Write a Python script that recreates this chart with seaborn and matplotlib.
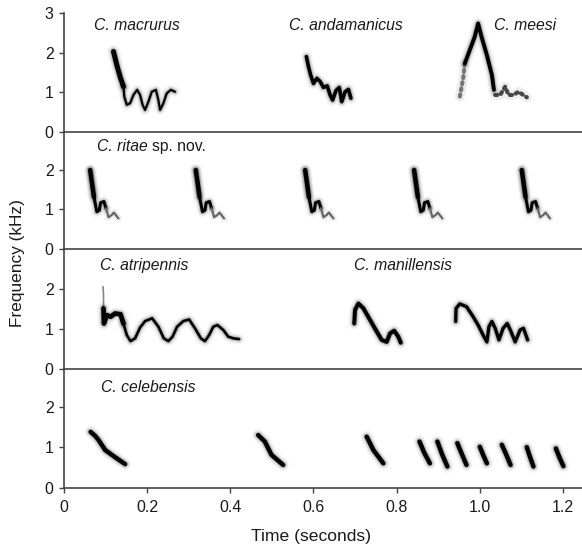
import matplotlib
matplotlib.use("Agg")
import matplotlib.pyplot as plt
import seaborn as sns

# syllable traces: time (s), frequency (kHz)
macrurus_head_t = [0.119, 0.127, 0.135, 0.143]
macrurus_head_f = [2.03, 1.69, 1.39, 1.14]
macrurus_tail_t = [0.143, 0.145, 0.151, 0.159, 0.167, 0.176, 0.183, 0.189, 0.195, 0.203, 0.211,
                   0.221, 0.227, 0.231, 0.239, 0.247, 0.257, 0.267]
macrurus_tail_f = [1.14, 0.89, 0.68, 0.72, 0.93, 1.06, 0.93, 0.68, 0.55, 0.76, 1.01,
                   1.06, 0.80, 0.55, 0.72, 0.97, 1.06, 1.01]

andamanicus_t = [0.583, 0.588, 0.593, 0.600, 0.608, 0.616, 0.624, 0.633, 0.640, 0.646, 0.654,
                 0.662, 0.668, 0.676, 0.684, 0.690]
andamanicus_f = [1.90, 1.65, 1.44, 1.22, 1.35, 1.27, 1.12, 1.16, 0.93, 0.80, 1.04,
                 1.12, 0.76, 1.01, 1.07, 0.85]

meesi_low_t = [0.952, 0.960, 0.964]
meesi_low_f = [0.89, 1.35, 1.73]
meesi_peak_t = [0.964, 0.976, 0.988, 0.996, 1.004, 1.017, 1.029, 1.034]
meesi_peak_f = [1.73, 2.07, 2.41, 2.74, 2.41, 1.94, 1.44, 1.06]
meesi_tail_t = [1.037, 1.049, 1.061, 1.069, 1.081, 1.093, 1.113]
meesi_tail_f = [0.93, 0.93, 1.14, 0.93, 0.93, 1.01, 0.87]

ritae_1_t = [0.063, 0.067, 0.072, 0.079, 0.085, 0.088, 0.096, 0.101]
ritae_2_t = [0.317, 0.321, 0.326, 0.333, 0.339, 0.342, 0.350, 0.355]
ritae_3_t = [0.580, 0.584, 0.589, 0.596, 0.602, 0.605, 0.613, 0.618]
ritae_4_t = [0.842, 0.846, 0.851, 0.858, 0.864, 0.867, 0.875, 0.880]
ritae_5_t = [1.101, 1.105, 1.110, 1.117, 1.123, 1.126, 1.134, 1.139]
ritae_f = [2.00, 1.70, 1.32, 0.94, 0.98, 1.17, 1.20, 1.03]
ritae_end_1_t = [0.101, 0.107, 0.115, 0.120, 0.131]
ritae_end_2_t = [0.355, 0.361, 0.369, 0.374, 0.385]
ritae_end_3_t = [0.618, 0.624, 0.632, 0.637, 0.648]
ritae_end_4_t = [0.880, 0.886, 0.894, 0.899, 0.910]
ritae_end_5_t = [1.139, 1.145, 1.153, 1.158, 1.169]
ritae_end_f = [1.03, 0.80, 0.86, 0.92, 0.77]

atripennis_spike_t = [0.094, 0.095, 0.095]
atripennis_spike_f = [2.05, 1.84, 1.45]
atripennis_head_t = [0.095, 0.096, 0.103, 0.112, 0.123, 0.136, 0.143]
atripennis_head_f = [1.51, 1.13, 1.34, 1.30, 1.38, 1.36, 1.13]
atripennis_t = [0.143, 0.151, 0.160, 0.171, 0.183, 0.195, 0.212, 0.227, 0.240, 0.251, 0.261, 0.272,
                0.287, 0.301, 0.315, 0.329, 0.339, 0.349, 0.359, 0.369, 0.383, 0.395, 0.407, 0.421]
atripennis_f = [1.13, 0.84, 0.69, 0.76, 1.03, 1.19, 1.26, 1.05, 0.76, 0.69, 0.80, 1.05,
                1.19, 1.23, 1.01, 0.76, 0.69, 0.84, 1.05, 1.09, 0.97, 0.80, 0.76, 0.74]

manillensis_1_t = [0.698, 0.700, 0.708, 0.720, 0.736, 0.752, 0.764, 0.776, 0.784, 0.794, 0.804, 0.810]
manillensis_1_f = [1.13, 1.47, 1.63, 1.51, 1.22, 0.93, 0.72, 0.67, 0.88, 0.95, 0.80, 0.65]
manillensis_2_t = [0.942, 0.943, 0.952, 0.968, 0.984, 0.996, 1.008, 1.017, 1.022, 1.029, 1.037,
                   1.046, 1.056, 1.066, 1.075, 1.085, 1.097, 1.105, 1.115]
manillensis_2_f = [1.18, 1.51, 1.62, 1.55, 1.30, 1.09, 0.84, 0.67, 1.05, 1.18, 1.01,
                   0.72, 1.01, 1.13, 0.93, 0.67, 0.97, 1.01, 0.72]

celebensis_calls = [
    ([0.064, 0.075, 0.083, 0.099, 0.119, 0.147], [1.38, 1.28, 1.18, 0.93, 0.78, 0.58]),
    ([0.467, 0.483, 0.499, 0.527], [1.30, 1.14, 0.81, 0.56]),
    ([0.728, 0.744, 0.768], [1.26, 0.93, 0.60]),
    ([0.855, 0.866, 0.880], [1.14, 0.87, 0.60]),
    ([0.898, 0.909, 0.922], [1.14, 0.83, 0.52]),
    ([0.946, 0.956, 0.968], [1.10, 0.85, 0.56]),
    ([1.000, 1.008, 1.017], [1.01, 0.81, 0.60]),
    ([1.053, 1.063, 1.074], [1.06, 0.83, 0.56]),
    ([1.113, 1.120, 1.129], [1.00, 0.78, 0.52]),
    ([1.183, 1.191, 1.201], [0.97, 0.76, 0.53]),
]

xtick_values = [0, 0.2, 0.4, 0.6, 0.8, 1.0, 1.2]
xtick_labels = ["0", "0.2", "0.4", "0.6", "0.8", "1.0", "1.2"]

AXIS = "#444444"
INK = "#1a1a1a"
WIDTH, HEIGHT = 582, 546


def stroke(ax, t, f, lw):
    # soft grey halo under a black core, like the smeared sonogram trace
    for extra, alpha in [(6, 0.03), (4, 0.05), (2.5, 0.08), (1.2, 0.15)]:
        sns.lineplot(x=t, y=f, ax=ax, sort=False, estimator=None, color="black",
                     lw=lw + extra, alpha=alpha, solid_capstyle="round", solid_joinstyle="round")
    sns.lineplot(x=t, y=f, ax=ax, sort=False, estimator=None, color="black",
                 lw=lw, solid_capstyle="round", solid_joinstyle="round")


def speckle(ax, t, f, lw, alpha):
    # broken, dotted trace
    sns.lineplot(x=t, y=f, ax=ax, sort=False, estimator=None, color="black", lw=lw + 4, alpha=0.07)
    sns.lineplot(x=t, y=f, ax=ax, sort=False, estimator=None, color="black", lw=lw,
                 linestyle=(0, (0.5, 1.0)), dash_capstyle="round", alpha=alpha)


def make_panel(fig, top, bottom, per_khz, yticks):
    ax = fig.add_axes([64 / WIDTH, 1 - bottom / HEIGHT, 1 - 64 / WIDTH, (bottom - top) / HEIGHT])
    ax.set_xlim(0, (WIDTH - 64) / 415.8)
    ax.set_ylim(0, (bottom - top) / per_khz)
    ax.set_yticks(yticks)
    ax.set_yticklabels([str(v) for v in yticks])
    ax.set_xticks([])
    sns.despine(ax=ax)
    ax.patch.set_alpha(0)
    for side in ["left", "bottom"]:
        ax.spines[side].set_color(AXIS)
        ax.spines[side].set_linewidth(1.2)
    ax.tick_params(axis="y", direction="out", length=3.8, width=1.0, color=AXIS, labelsize=11.5,
                   labelcolor=INK, pad=3.6)
    return ax


sns.set_theme(style="ticks")
plt.rcParams["font.family"] = ["Liberation Sans", "DejaVu Sans"]

fig = plt.figure(figsize=(WIDTH / 100, HEIGHT / 100), dpi=100)

ax1 = make_panel(fig, 13, 131.7, 39.5, [0, 1, 2, 3])
ax2 = make_panel(fig, 131.7, 248.7, 39.3, [0, 1, 2])
ax3 = make_panel(fig, 248.7, 368.7, 40.0, [0, 1, 2])
ax4 = make_panel(fig, 368.7, 487.5, 40.3, [0, 1, 2])

stroke(ax1, macrurus_head_t, macrurus_head_f, 3.6)
stroke(ax1, macrurus_tail_t, macrurus_tail_f, 1.6)
stroke(ax1, andamanicus_t, andamanicus_f, 2.6)
speckle(ax1, meesi_low_t, meesi_low_f, 3.0, 0.5)
stroke(ax1, meesi_peak_t, meesi_peak_f, 2.8)
speckle(ax1, meesi_tail_t, meesi_tail_f, 3.0, 0.7)

for t in [ritae_1_t, ritae_2_t, ritae_3_t, ritae_4_t, ritae_5_t]:
    stroke(ax2, t, ritae_f, 2.2)
    stroke(ax2, t[:3], ritae_f[:3], 3.2)
for t in [ritae_end_1_t, ritae_end_2_t, ritae_end_3_t, ritae_end_4_t, ritae_end_5_t]:
    sns.lineplot(x=t, y=ritae_end_f, ax=ax2, sort=False, estimator=None, color="black",
                 lw=4.5, alpha=0.08, solid_capstyle="round")
    sns.lineplot(x=t, y=ritae_end_f, ax=ax2, sort=False, estimator=None, color="#666666",
                 lw=1.6, solid_capstyle="round")

sns.lineplot(x=atripennis_spike_t, y=atripennis_spike_f, ax=ax3, sort=False, estimator=None,
             color="#888888", lw=1.2)
stroke(ax3, atripennis_head_t, atripennis_head_f, 3.4)
stroke(ax3, atripennis_t, atripennis_f, 1.9)
stroke(ax3, manillensis_1_t, manillensis_1_f, 2.9)
stroke(ax3, manillensis_2_t, manillensis_2_f, 2.4)

for t, f in celebensis_calls:
    stroke(ax4, t, f, 3.2)

ax4.set_xticks(xtick_values)
ax4.set_xticklabels(xtick_labels)
ax4.tick_params(axis="x", direction="out", length=3.8, width=1.0, color=AXIS, labelsize=11.5,
                labelcolor=INK, pad=5)

label_style = {"fontsize": 11.3, "va": "center", "color": INK}
ax1.text(0.072, 2.70, "C. macrurus", style="italic", **label_style)
ax1.text(0.541, 2.70, "C. andamanicus", style="italic", **label_style)
ax1.text(1.034, 2.70, "C. meesi", style="italic", **label_style)
ax2.text(0.079, 2.59, "C. ritae", style="italic", **label_style)
ax2.text(0.212, 2.59, "sp. nov.", **label_style)
ax3.text(0.087, 2.59, "C. atripennis", style="italic", **label_style)
ax3.text(0.697, 2.59, "C. manillensis", style="italic", **label_style)
ax4.text(0.089, 2.49, "C. celebensis", style="italic", **label_style)

fig.text(18 / WIDTH, 1 - 263 / HEIGHT, "Frequency (kHz)", rotation=90, ha="center", va="center",
         fontsize=12.4, color=INK)
fig.text(311 / WIDTH, 1 - 536 / HEIGHT, "Time (seconds)", ha="center", va="center",
         fontsize=12.6, color=INK)

fig.savefig("out.png", dpi=100)
